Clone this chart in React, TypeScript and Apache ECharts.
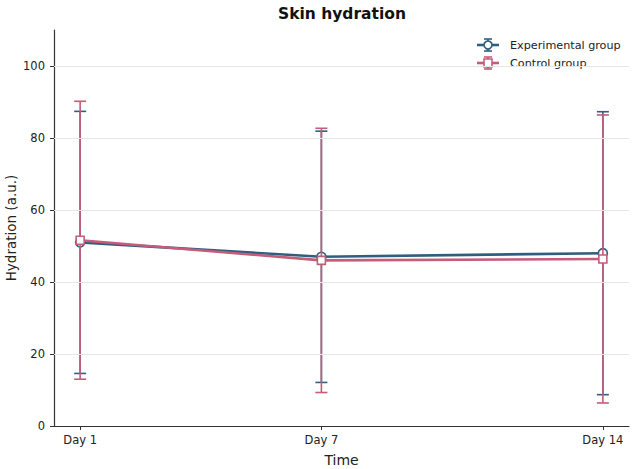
import React, { useEffect, useRef } from "react";
import * as echarts from "echarts";

const days = [1, 7, 14];
const dayLabels = ["Day 1", "Day 7", "Day 14"];
const expMean = [51.0, 47.0, 48.0];
const expSd = [36.4, 34.9, 39.3];
const ctrlMean = [51.6, 46.0, 46.4];
const ctrlSd = [38.6, 36.7, 40.0];
const yTicks = [0, 20, 40, 60, 80, 100];

const EXP = "#2f5f80";
const CTRL = "#c45c7a";
const FONT = "DejaVu Sans";

function errorSeries(name: string, mean: number[], sd: number[], color: string, z: number) {
  return {
    type: "custom",
    name: name + " error",
    z,
    silent: true,
    data: days.map((d, i) => [d, mean[i] - sd[i], mean[i] + sd[i]]),
    renderItem: (params: any, api: any) => {
      const lo = api.coord([api.value(0), api.value(1)]);
      const hi = api.coord([api.value(0), api.value(2)]);
      const half = 6;
      const style = { stroke: color, lineWidth: 1.6 };
      return {
        type: "group",
        children: [
          { type: "line", shape: { x1: lo[0], y1: lo[1], x2: hi[0], y2: hi[1] }, style },
          { type: "line", shape: { x1: lo[0] - half, y1: lo[1], x2: lo[0] + half, y2: lo[1] }, style },
          { type: "line", shape: { x1: hi[0] - half, y1: hi[1], x2: hi[0] + half, y2: hi[1] }, style },
        ],
      };
    },
  };
}

function lineSeries(name: string, mean: number[], color: string, symbol: string, z: number) {
  return {
    type: "line",
    name,
    z,
    data: days.map((d, i) => [d, mean[i]]),
    symbol,
    symbolSize: symbol === "rect" ? 8 : 9,
    showAllSymbol: true,
    lineStyle: { color, width: 2.6 },
    itemStyle: { color: "#ffffff", borderColor: color, borderWidth: 1.6 },
  };
}

function legendItem(y: number, color: string, marker: "circle" | "rect", label: string) {
  const cx = 488;
  const st = { stroke: color, lineWidth: 1.6 };
  const markerEl =
    marker === "circle"
      ? { type: "circle", shape: { cx, cy: y, r: 4 }, style: { fill: "#fff", stroke: color, lineWidth: 1.6 } }
      : { type: "rect", shape: { x: cx - 4, y: y - 4, width: 8, height: 8 }, style: { fill: "#fff", stroke: color, lineWidth: 1.6 } };
  return [
    { type: "line", shape: { x1: 477, y1: y, x2: 499, y2: y }, style: { stroke: color, lineWidth: 2.6 } },
    { type: "line", shape: { x1: cx, y1: y - 6, x2: cx, y2: y + 6 }, style: st },
    { type: "line", shape: { x1: cx - 4, y1: y - 6, x2: cx + 4, y2: y - 6 }, style: st },
    { type: "line", shape: { x1: cx - 4, y1: y + 6, x2: cx + 4, y2: y + 6 }, style: st },
    markerEl,
    {
      type: "text",
      x: 510,
      y,
      style: { text: label, fill: "#222", font: `11.2px "${FONT}"`, textVerticalAlign: "middle" },
    },
  ];
}

export default function App() {
  const ref = useRef<HTMLDivElement>(null);
  useEffect(() => {
    document.body.style.margin = "0";
    const chart = echarts.init(ref.current!, null, { renderer: "svg" });
    chart.setOption({
      animation: false,
      backgroundColor: "#ffffff",
      textStyle: { fontFamily: FONT },
      title: {
        text: "Skin hydration",
        left: 337,
        textAlign: "center",
        top: 1,
        textStyle: { fontFamily: FONT, fontSize: 15.5, fontWeight: "bold", color: "#111" },
      },
      grid: { left: 54, right: 3, top: 30, bottom: 43, containLabel: false, outerBoundsMode: "none" },
      xAxis: {
        type: "value",
        min: 0.35,
        max: 14.65,
        name: "Time",
        nameLocation: "middle",
        nameGap: 27,
        nameMoveOverlap: false,
        nameTextStyle: { fontFamily: FONT, fontSize: 14, color: "#222" },
        axisLine: { show: true, onZero: false, lineStyle: { color: "#333", width: 1.2 } },
        axisTick: { show: true, length: 4, customValues: days, lineStyle: { color: "#333" } },
        axisLabel: {
          customValues: days,
          margin: 8,
          fontFamily: FONT,
          fontSize: 11.5,
          color: "#222",
          formatter: (v: number) => dayLabels[days.indexOf(v)] ?? "",
        },
        splitLine: { show: false },
      },
      yAxis: {
        type: "value",
        min: 0,
        max: 110,
        name: "Hydration (a.u.)",
        nameLocation: "middle",
        nameGap: 36,
        nameMoveOverlap: false,
        nameTextStyle: { fontFamily: FONT, fontSize: 13.5, lineHeight: 15, color: "#222" },
        axisLine: { show: true, lineStyle: { color: "#333", width: 1.2 } },
        axisTick: { show: true, length: 4, customValues: yTicks, lineStyle: { color: "#333" } },
        axisLabel: { customValues: yTicks, margin: 9, fontFamily: FONT, fontSize: 11.5, color: "#222" },
        splitLine: { show: false },
      },
      series: [
        {
          type: "line",
          name: "grid",
          silent: true,
          data: [],
          markLine: {
            silent: true,
            symbol: "none",
            label: { show: false },
            lineStyle: { color: "#e6e6e6", width: 1, type: "solid" },
            data: yTicks.filter((t) => t > 0).map((t) => ({ yAxis: t })),
          },
          z: 0,
        },
        errorSeries("Experimental group", expMean, expSd, EXP, 2),
        lineSeries("Experimental group", expMean, EXP, "circle", 3),
        errorSeries("Control group", ctrlMean, ctrlSd, CTRL, 4),
        lineSeries("Control group", ctrlMean, CTRL, "rect", 5),
      ],
      graphic: [
        ...legendItem(45, EXP, "circle", "Experimental group"),
        ...legendItem(63, CTRL, "rect", "Control group"),
      ],
    });
    return () => chart.dispose();
  }, []);
  return <div ref={ref} style={{ width: 632, height: 469 }} />;
}
